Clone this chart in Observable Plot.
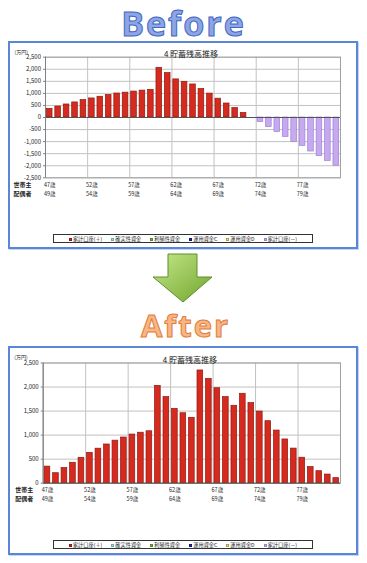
<!DOCTYPE html>
<html><head><meta charset="utf-8">
<script src="https://cdn.jsdelivr.net/npm/d3@7"></script>
<script src="https://cdn.jsdelivr.net/npm/@observablehq/plot@0.6"></script>
<style>
html,body{margin:0;padding:0;background:#fff}
#page{position:relative;width:367px;height:563px;overflow:hidden;font-family:'Noto Sans CJK JP',sans-serif}
.hdr{position:absolute;left:0;width:367px;text-align:center;font-family:'Open Sans',sans-serif;font-weight:bold}
.box{position:absolute;box-sizing:border-box;border:2px solid #5b86d6;box-shadow:1px 1px 0 #c5d5f2}
.chart{position:absolute;left:9px}
.legend{position:absolute;left:53px;width:260px;height:9px;box-sizing:border-box;border:1px solid #333;display:flex;align-items:center;justify-content:center;gap:9px;font-size:5.2px;line-height:7px;color:#222;background:#fff;white-space:nowrap}
.legend .m{display:inline-block;width:3px;height:3px;margin-right:1px;vertical-align:middle;box-sizing:border-box;border:0.5px solid}
</style></head>
<body>
<div id="page">
  <div class="hdr" style="top:0px;font-size:34px;line-height:47px;letter-spacing:2px;color:#8ca5e4;-webkit-text-stroke:1px #4266c2">Before</div>
  <div class="box" style="left:8px;top:41px;width:350px;height:208px"></div>
  <div class="chart" id="c1" style="top:42px"></div>
  <div class="legend" id="l1" style="top:234px"></div>
  <svg style="position:absolute;left:0;top:0" width="367" height="563">
    <defs><linearGradient id="ag" x1="0" y1="0" x2="1" y2="1">
      <stop offset="0" stop-color="#c6e88a"/><stop offset="1" stop-color="#6fa52c"/></linearGradient></defs>
    <polygon points="168,254 197,254 197,277 212,277 183,302 153,277 168,277" fill="url(#ag)" stroke="#5f8f28" stroke-width="1"/>
  </svg>
  <div class="hdr" style="top:305px;left:2px;font-size:31px;line-height:40px;letter-spacing:2px;color:#f6b688;-webkit-text-stroke:1px #e27d3a">After</div>
  <div class="box" style="left:8px;top:346px;width:350px;height:209px"></div>
  <div class="chart" id="c2" style="top:347px"></div>
  <div class="legend" id="l2" style="top:540px"></div>
</div>
<script>
const ages = [47,48,49,50,51,52,53,54,55,56,57,58,59,60,61,62,63,64,65,66,67,68,69,70,71,72,73,74,75,76,77,78,79,80,81];
const beforeBalance = [360,455,540,625,720,790,860,930,995,1030,1075,1115,1145,2060,1840,1580,1480,1370,1180,990,780,580,390,185,0,-190,-400,-600,-805,-1010,-1180,-1410,-1600,-1800,-2000];
const afterBalance = [345,208,315,425,528,630,718,805,885,950,1012,1050,1080,2025,1790,1547,1455,1360,2345,2170,1975,1790,1610,1860,1665,1490,1290,1095,910,720,530,335,250,180,105];
const tickAges = [47,52,57,62,67,72,77];
const gridAges = [47,52,57,62,67,72,77,82];
const headLabels = ["47歳","52歳","57歳","62歳","67歳","72歳","77歳"];
const spouseLabels = ["49歳","54歳","59歳","64歳","69歳","74歳","79歳"];
const beforeTicks = [-2500,-2000,-1500,-1000,-500,0,500,1000,1500,2000,2500];
const afterTicks = [0,500,1000,1500,2000,2500];
const seriesNames = ["家計口座(＋)","確実性資金","利殖性資金","運用資金C","運用資金D","家計口座(－)"];
const seriesFills = ["#d62a1e","#a8e2ea","#6cb44e","#1f2f9a","#eeeea0","#c6a9ef"];
const seriesStrokes = ["#8c1a12","#5bb0c0","#4a8a34","#101a70","#a8a040","#9c80d6"];
const chartTitle = "4 貯蓄残高推移";
const unitLabel = "(万円)";
const rowNames = ["世帯主","配偶者"];

function chart(o) {
  const rows = ages.map((age, i) => ({age, value: o.values[i]}));
  const pos = rows.filter(d => d.value > 0), neg = rows.filter(d => d.value < 0);
  const labels = tickAges.map((age, i) => ({age, head: headLabels[i], spouse: spouseLabels[i]}));
  const ff = "'Noto Sans CJK JP',sans-serif";
  return Plot.plot({
    width: 348, height: 190,
    marginLeft: o.marginLeft, marginRight: 17, marginTop: o.marginTop, marginBottom: o.marginBottom,
    style: {fontFamily: ff, background: "transparent", color: "#222", overflow: "visible"},
    x: {domain: [47, 82], axis: null},
    y: {domain: o.yDomain, axis: null, label: null},
    marks: [
      Plot.gridY(o.yTicks, {stroke: "#c2c2c2", strokeOpacity: 1}),
      Plot.ruleX(gridAges, {stroke: "#c2c2c2"}),
      Plot.frame({stroke: "#a0a0a0"}),
      Plot.rectY(pos, {x1: "age", x2: d => d.age + 1, y1: 0, y2: "value", insetLeft: 1.4, insetRight: 1.4,
        fill: seriesFills[0], stroke: seriesStrokes[0], strokeWidth: 0.7}),
      Plot.rectY(neg, {x1: "age", x2: d => d.age + 1, y1: 0, y2: "value", insetLeft: 1.4, insetRight: 1.4,
        fill: seriesFills[5], stroke: seriesStrokes[5], strokeWidth: 0.7}),
      Plot.ruleY([0], {stroke: "#555"}),
      Plot.ruleX([47], {stroke: "#808080"}),
      Plot.axisY(o.yTicks, {tickFormat: d => d.toLocaleString("en-US"), tickSize: 2, tickPadding: 2.5, fontSize: 6, stroke: "#808080", label: null}),
      Plot.text(labels, {x: d => d.age + 0.5, text: "head", frameAnchor: "bottom", dy: o.rowDy1, fontSize: 5.5}),
      Plot.text(labels, {x: d => d.age + 0.5, text: "spouse", frameAnchor: "bottom", dy: o.rowDy2, fontSize: 5.5}),
      Plot.text([rowNames[0]], {text: d => d, frameAnchor: "bottom-left", textAnchor: "start", dx: o.rowDx, dy: o.rowDy1, fontSize: 6, fontWeight: "bold"}),
      Plot.text([rowNames[1]], {text: d => d, frameAnchor: "bottom-left", textAnchor: "start", dx: o.rowDx, dy: o.rowDy2, fontSize: 6, fontWeight: "bold"}),
      Plot.text([chartTitle], {text: d => d, frameAnchor: "top", dy: -6, dx: -2, fontSize: 8}),
      Plot.text([unitLabel], {text: d => d, frameAnchor: "top-left", textAnchor: "start", dx: o.unitDx, dy: o.unitDy, fontSize: 5})
    ]
  });
}

document.getElementById("c1").append(chart({
  values: beforeBalance, yDomain: [-2500, 2500], yTicks: beforeTicks,
  marginLeft: 36, marginTop: 14.7, marginBottom: 54.7,
  rowDy1: 9.4, rowDy2: 18, rowDx: -32, unitDx: -31, unitDy: -7
}));
document.getElementById("c2").append(chart({
  values: afterBalance, yDomain: [0, 2500], yTicks: afterTicks,
  marginLeft: 33.7, marginTop: 15.5, marginBottom: 54.3,
  rowDy1: 8.8, rowDy2: 17.4, rowDx: -28, unitDx: -29, unitDy: -7.5
}));

function legend(id) {
  const el = document.getElementById(id);
  seriesNames.forEach((name, i) => {
    const item = document.createElement("span");
    const m = document.createElement("span");
    m.className = "m";
    m.style.background = seriesFills[i];
    m.style.borderColor = seriesStrokes[i];
    item.append(m, name);
    el.append(item);
  });
}
legend("l1");
legend("l2");
</script>
</body></html>
